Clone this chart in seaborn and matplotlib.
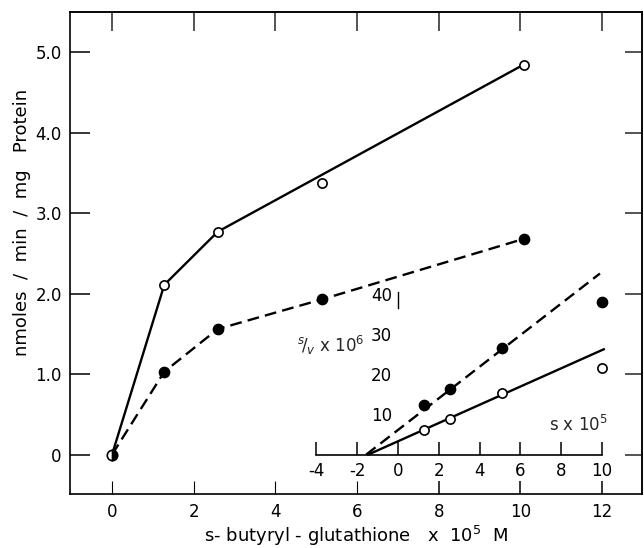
import matplotlib
matplotlib.use("Agg")
import matplotlib.pyplot as plt
import seaborn as sns
import pandas as pd

# ---- main plot data (s-butyryl-glutathione x 1e5 M vs nmoles/min/mg protein)
conc = [0.0, 1.28, 2.59, 5.15, 10.08]
rate_open = [0.0, 2.11, 2.77, 3.37, 4.84]
rate_filled = [0.0, 1.03, 1.56, 1.93, 2.68]
open_curve_x = [0.0, 1.28, 2.59, 10.06]
open_curve_y = [0.0, 2.11, 2.77, 4.84]
filled_curve_x = [0.0, 1.28, 2.59, 5.15, 10.08]
filled_curve_y = [0.0, 1.03, 1.56, 1.93, 2.68]

# ---- inset (Hanes plot: s/v x 1e6 vs s x 1e5)
s_vals = [1.3, 2.55, 5.08, 10.0]
sv_filled = [12.3, 16.4, 26.4, 37.9]
sv_open = [6.0, 8.9, 15.3, 21.4]
fit_filled_x = [-1.55, 9.9]
fit_filled_y = [0.0, 45.0]
fit_open_x = [-1.45, 10.1]
fit_open_y = [0.0, 26.2]

x_ticks = [0, 2, 4, 6, 8, 10, 12]
x_tick_labels = ["0", "2", "4", "6", "8", "10", "12"]
y_ticks = [0, 1, 2, 3, 4, 5]
y_tick_labels = ["0", "1.0", "2.0", "3.0", "4.0", "5.0"]
inset_x_ticks = [-4, -2, 0, 2, 4, 6, 8, 10]
inset_x_labels = ["-4", "-2", "0", "2", "4", "6", "8", "10"]
inset_y_ticks = [10, 20, 30, 40]
inset_y_labels = ["10", "20", "30", "40"]

sns.set_theme(style="ticks")
plt.rcParams["font.family"] = ["DejaVu Sans"]
plt.rcParams["axes.unicode_minus"] = False
plt.rcParams["mathtext.fontset"] = "dejavusans"

FS = 12
LFS = 13
LW = 1.7
DASH = (5.0, 2.6)

fig = plt.figure(figsize=(6.44, 5.48), dpi=100)
ax = fig.add_axes([70 / 644, 1 - 494 / 548, 572 / 644, 482 / 548])
ax.set_xlim(-1.03, 12.98)
ax.set_ylim(-0.49, 5.5)

main_lines = pd.DataFrame({"x": open_curve_x, "y": open_curve_y})
sns.lineplot(data=main_lines, x="x", y="y", ax=ax, color="black", lw=LW,
             sort=False, estimator=None, zorder=2)
filled_lines = pd.DataFrame({"x": filled_curve_x, "y": filled_curve_y})
sns.lineplot(data=filled_lines, x="x", y="y", ax=ax, color="black", lw=LW,
             sort=False, estimator=None, zorder=2).lines[-1].set_dashes(DASH)

pts_open = pd.DataFrame({"x": conc[1:], "y": rate_open[1:]})
pts_filled = pd.DataFrame({"x": conc[1:], "y": rate_filled[1:]})
sns.scatterplot(data=pts_open, x="x", y="y", ax=ax, s=44, facecolor="white",
                edgecolor="black", linewidth=1.2, zorder=3)
sns.scatterplot(data=pts_filled, x="x", y="y", ax=ax, s=55, color="black",
                edgecolor="black", linewidth=1.0, zorder=3)
ax.plot(conc[:1], rate_filled[:1], marker="o", ms=7.5, fillstyle="right",
        markerfacecolor="black", markerfacecoloralt="white",
        markeredgecolor="black", mew=1.2, ls="none", zorder=4)

# frame and ticks
for sp in ax.spines.values():
    sp.set_visible(True)
    sp.set_linewidth(1.2)
    sp.set_color("black")
ax.set_xticks(x_ticks)
ax.set_xticklabels(x_tick_labels)
ax.set_yticks(y_ticks)
ax.set_yticklabels(y_tick_labels)
ax.tick_params(axis="x", direction="in", length=9.5, width=1.1, pad=6.5,
               labelsize=FS, colors="black", bottom=True, top=False)
ax.tick_params(axis="y", direction="in", length=14.5, width=1.1, pad=6,
               labelsize=FS, colors="black", left=True, right=False)
for t in ax.xaxis.get_major_ticks()[:4]:
    t.tick1line.set_color("0.55")
    t.tick1line.set_markeredgewidth(0.8)
    t.label1.set_color("black")

top = ax.secondary_xaxis("top")
top.set_xticks(x_ticks)
top.tick_params(direction="in", length=13.5, width=1.1, labeltop=False)
top.spines["top"].set_linewidth(1.2)
right = ax.secondary_yaxis("right")
right.set_yticks(y_ticks)
right.tick_params(direction="in", length=12, width=1.1, labelright=False)
right.spines["right"].set_linewidth(1.2)

ax.set_xlabel(r"s- butyryl - glutathione   x  10$^5$  M", fontsize=LFS, color="black")
ax.xaxis.set_label_coords(0.5, -0.061)
ax.set_ylabel("nmoles  /  min  /  mg   Protein", fontsize=LFS, color="black")
ax.yaxis.set_label_coords(-0.068, 0.564)

# ---- inset axes placed in the main data frame: main_x = 7 + s/2, main_y = sv/20
ix0, ix1, iy0, iy1 = -5.0, 11.0, -2.0, 48.0
inv = fig.transFigure.inverted()
p0 = inv.transform(ax.transData.transform((7 + ix0 / 2, iy0 / 20)))
p1 = inv.transform(ax.transData.transform((7 + ix1 / 2, iy1 / 20)))
ins = fig.add_axes([p0[0], p0[1], p1[0] - p0[0], p1[1] - p0[1]])
ins.set_facecolor("none")
ins.set_xlim(ix0, ix1)
ins.set_ylim(iy0, iy1)

fitf = pd.DataFrame({"x": fit_filled_x, "y": fit_filled_y})
sns.lineplot(data=fitf, x="x", y="y", ax=ins, color="black", lw=LW,
             sort=False, estimator=None).lines[-1].set_dashes(DASH)
fito = pd.DataFrame({"x": fit_open_x, "y": fit_open_y})
sns.lineplot(data=fito, x="x", y="y", ax=ins, color="black", lw=LW,
             sort=False, estimator=None)
sns.scatterplot(x=s_vals, y=sv_filled, ax=ins, s=55, color="black",
                edgecolor="black", linewidth=1.0, zorder=3)
sns.scatterplot(x=s_vals, y=sv_open, ax=ins, s=44, facecolor="white",
                edgecolor="black", linewidth=1.2, zorder=3)

ins.spines["top"].set_visible(False)
ins.spines["right"].set_visible(False)
ins.spines["bottom"].set_position(("data", 0))
ins.spines["bottom"].set_bounds(-4, 10)
ins.spines["bottom"].set_linewidth(1.2)
ins.spines["bottom"].set_color("black")
ins.spines["left"].set_position(("data", 0))
ins.spines["left"].set_bounds(36.5, 40.3)
ins.spines["left"].set_linewidth(1.0)
ins.spines["left"].set_color("black")
ins.set_xticks(inset_x_ticks)
ins.set_xticklabels(inset_x_labels)
ins.set_yticks(inset_y_ticks)
ins.set_yticklabels(inset_y_labels)
ins.tick_params(axis="x", direction="in", length=9.5, width=1.1, pad=5.5,
                labelsize=FS, colors="black")
ins.tick_params(axis="y", length=0, pad=4, labelsize=FS, colors="black")
ins.set_xlabel("")
ins.set_ylabel("")
ins.text(-4.95, 27, r"$^{s}\!/_{v}$ x 10$^6$", fontsize=FS, ha="left", va="center")
ins.text(10.3, 7.3, r"s x 10$^5$", fontsize=FS, ha="right", va="center")

fig.savefig("out.png", dpi=100)
